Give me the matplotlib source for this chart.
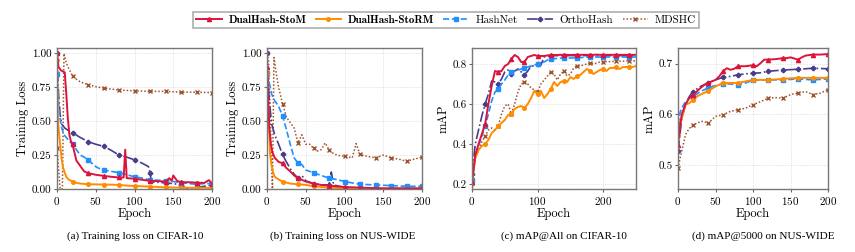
import numpy as np
import matplotlib
matplotlib.use("Agg")
import matplotlib.pyplot as plt

plt.rcParams['font.family'] = 'cmr10'
plt.rcParams['axes.formatter.use_mathtext'] = True
plt.rcParams['mathtext.fontset'] = 'cm'

methods = ["DualHash-StoM", "DualHash-StoRM", "HashNet", "OrthoHash", "MDSHC"]

# ---- (a) training loss, CIFAR-10
a_stom_x = [0, 2, 5, 10, 12, 14, 16, 18, 20, 25, 30, 35, 40, 50, 60, 70, 80, 86, 88, 90,
            95, 100, 110, 120, 130, 140, 145, 148, 150, 155, 160, 170, 180, 190, 196, 200]
a_stom_y = [1.00, 0.90, 0.875, 0.86, 0.70, 0.52, 0.40, 0.35, 0.33, 0.21, 0.17, 0.13, 0.117, 0.105,
            0.097, 0.09, 0.085, 0.085, 0.29, 0.08, 0.078, 0.075, 0.068, 0.06, 0.058, 0.055, 0.08,
            0.06, 0.10, 0.06, 0.05, 0.05, 0.047, 0.045, 0.065, 0.04]
a_storm_x = [0, 1, 2, 4, 6, 8, 10, 12, 15, 20, 25, 30, 40, 50, 60, 70, 80, 90, 100, 110,
             120, 140, 160, 180, 200]
a_storm_y = [0.95, 0.55, 0.45, 0.33, 0.22, 0.155, 0.12, 0.09, 0.07, 0.055, 0.045, 0.04, 0.035,
             0.034, 0.033, 0.032, 0.03, 0.025, 0.022, 0.02, 0.018, 0.012, 0.01, 0.009, 0.008]
a_hash_x = [0, 2, 4, 6, 9, 12, 16, 20, 25, 30, 35, 40, 45, 50, 55, 60, 70, 80, 90, 100,
            110, 120, 130, 140, 150, 160, 170, 180, 190, 200]
a_hash_y = [0.85, 0.63, 0.52, 0.45, 0.40, 0.38, 0.35, 0.335, 0.29, 0.25, 0.235, 0.215, 0.19,
            0.165, 0.15, 0.14, 0.13, 0.12, 0.105, 0.09, 0.08, 0.067, 0.065, 0.06, 0.055, 0.047,
            0.04, 0.035, 0.04, 0.04]
a_ortho_x = [0, 2, 4, 6, 10, 15, 20, 30, 40, 50, 60, 70, 80, 90, 100, 110, 118, 120, 122, 130,
             140, 150, 160, 165, 170, 175, 180, 190, 200]
a_ortho_y = [1.00, 0.70, 0.55, 0.48, 0.45, 0.43, 0.415, 0.38, 0.35, 0.33, 0.315, 0.285, 0.25,
             0.235, 0.215, 0.19, 0.165, 0.12, 0.05, 0.05, 0.045, 0.04, 0.03, 0.01, 0.005, 0.0,
             0.01, 0.02, 0.03]
a_mdshc_x = [0, 4, 7, 9, 12, 15, 20, 25, 30, 40, 50, 60, 80, 100, 120, 140, 160, 180, 200]
a_mdshc_y = [0.30, 0.0, 0.0, 1.00, 0.93, 0.89, 0.835, 0.81, 0.79, 0.77, 0.755, 0.744, 0.73,
             0.724, 0.72, 0.72, 0.714, 0.714, 0.711]

# ---- (b) training loss, NUS-WIDE
b_stom_x = [0, 1, 2, 3, 5, 7, 10, 15, 20, 25, 30, 35, 40, 50, 60, 70, 80, 100, 120, 150, 200]
b_stom_y = [0.90, 0.75, 0.60, 0.45, 0.33, 0.27, 0.23, 0.20, 0.19, 0.155, 0.13, 0.10, 0.08,
            0.055, 0.04, 0.03, 0.025, 0.015, 0.01, 0.005, 0.005]
b_storm_x = [0, 1, 2, 4, 6, 8, 10, 15, 20, 30, 40, 50, 60, 80, 100, 150, 200]
b_storm_y = [0.85, 0.70, 0.55, 0.255, 0.17, 0.12, 0.09, 0.07, 0.055, 0.04, 0.035, 0.03, 0.02,
             0.01, 0.005, 0.003, 0.003]
b_hash_x = [0, 3, 6, 10, 15, 20, 25, 30, 35, 40, 45, 50, 60, 70, 80, 90, 100, 120, 140, 160,
            180, 200]
b_hash_y = [0.85, 0.78, 0.70, 0.65, 0.61, 0.54, 0.44, 0.33, 0.23, 0.19, 0.18, 0.14, 0.12, 0.10,
            0.08, 0.07, 0.055, 0.035, 0.03, 0.025, 0.02, 0.02]
b_ortho_x = [0, 1, 3, 6, 10, 15, 20, 25, 30, 35, 40, 45, 50, 55, 60, 70, 80, 83, 86, 100,
             120, 150, 200]
b_ortho_y = [1.00, 0.85, 0.65, 0.48, 0.40, 0.33, 0.255, 0.20, 0.15, 0.11, 0.08, 0.10, 0.06,
             0.05, 0.04, 0.03, 0.03, 0.125, 0.03, 0.01, 0.005, 0.002, 0.002]
b_mdshc_x = [0, 2, 7, 9, 12, 15, 20, 25, 30, 35, 40, 45, 50, 55, 60, 65, 70, 75, 80, 85,
             90, 100, 110, 115, 120, 130, 140, 150, 160, 170, 180, 190, 200]
b_mdshc_y = [1.00, 0.95, 0.0, 0.97, 0.85, 0.75, 0.63, 0.53, 0.49, 0.45, 0.34, 0.40, 0.33, 0.33,
             0.30, 0.28, 0.29, 0.34, 0.29, 0.265, 0.25, 0.24, 0.23, 0.335, 0.255, 0.24, 0.23,
             0.25, 0.23, 0.22, 0.205, 0.22, 0.235]

# ---- (c) mAP@All, CIFAR-10 (every 5 epochs, 0..250)
c_x = np.arange(0, 251, 5)
c_stom_y = [0.21, 0.345, 0.40, 0.45, 0.50, 0.60, 0.69, 0.765, 0.76, 0.765,
            0.79, 0.80, 0.825, 0.845, 0.835, 0.81, 0.81, 0.835, 0.84, 0.845,
            0.84, 0.84, 0.84, 0.843, 0.845, 0.845, 0.845, 0.846, 0.846, 0.846,
            0.845, 0.846, 0.846, 0.846, 0.846, 0.846, 0.846, 0.846, 0.847, 0.846,
            0.846, 0.846, 0.846, 0.846, 0.846, 0.846, 0.846, 0.846, 0.846, 0.846, 0.846]
c_storm_y = [0.20, 0.33, 0.37, 0.39, 0.40, 0.42, 0.455, 0.47, 0.49, 0.505,
             0.52, 0.545, 0.55, 0.575, 0.585, 0.59, 0.58, 0.60, 0.63, 0.665,
             0.65, 0.665, 0.63, 0.65, 0.675, 0.71, 0.69, 0.71, 0.715, 0.71,
             0.735, 0.725, 0.74, 0.745, 0.76, 0.775, 0.765, 0.75, 0.76, 0.77,
             0.775, 0.765, 0.78, 0.78, 0.785, 0.775, 0.785, 0.785, 0.787, 0.785, 0.79]
c_hash_y = [0.22, 0.33, 0.39, 0.44, 0.49, 0.55, 0.615, 0.66, 0.675, 0.70,
            0.72, 0.745, 0.76, 0.765, 0.77, 0.775, 0.78, 0.785, 0.79, 0.795,
            0.80, 0.805, 0.81, 0.82, 0.825, 0.826, 0.828, 0.829, 0.83, 0.83,
            0.83, 0.83, 0.83, 0.832, 0.833, 0.834, 0.835, 0.835, 0.835, 0.835,
            0.835, 0.835, 0.835, 0.835, 0.835, 0.835, 0.835, 0.835, 0.835, 0.835, 0.835]
c_ortho_y = [0.25, 0.40, 0.47, 0.54, 0.60, 0.65, 0.715, 0.71, 0.70, 0.725,
             0.76, 0.77, 0.75, 0.765, 0.775, 0.76, 0.745, 0.765, 0.79, 0.79,
             0.80, 0.795, 0.835, 0.84, 0.84, 0.842, 0.842, 0.842, 0.842, 0.842,
             0.842, 0.842, 0.842, 0.842, 0.842, 0.842, 0.842, 0.842, 0.842, 0.842,
             0.842, 0.842, 0.842, 0.842, 0.842, 0.842, 0.842, 0.842, 0.842, 0.842, 0.842]
c_mdshc_y = [0.22, 0.33, 0.37, 0.41, 0.44, 0.47, 0.48, 0.47, 0.49, 0.55,
             0.59, 0.60, 0.55, 0.60, 0.66, 0.70, 0.71, 0.70, 0.68, 0.67,
             0.66, 0.70, 0.72, 0.74, 0.76, 0.75, 0.72, 0.75, 0.765, 0.74,
             0.75, 0.78, 0.79, 0.79, 0.795, 0.80, 0.805, 0.80, 0.805, 0.81,
             0.81, 0.812, 0.812, 0.813, 0.813, 0.814, 0.814, 0.815, 0.815, 0.815, 0.816]

# ---- (d) mAP@5000, NUS-WIDE
d_stom_x = [0, 3, 5, 10, 15, 20, 25, 30, 35, 40, 45, 50, 55, 60, 65, 70, 75, 80, 90, 100,
            105, 110, 115, 120, 130, 140, 145, 150, 160, 165, 170, 180, 190, 200]
d_stom_y = [0.54, 0.58, 0.60, 0.62, 0.632, 0.639, 0.645, 0.652, 0.658, 0.662, 0.665, 0.668,
            0.675, 0.685, 0.691, 0.688, 0.69, 0.695, 0.695, 0.697, 0.695, 0.701, 0.708, 0.708,
            0.709, 0.711, 0.711, 0.7125, 0.708, 0.7125, 0.716, 0.718, 0.718, 0.719]
d_storm_x = [0, 3, 5, 10, 15, 20, 25, 30, 40, 50, 60, 70, 80, 90, 100, 120, 140, 160, 180, 200]
d_storm_y = [0.56, 0.58, 0.592, 0.619, 0.622, 0.629, 0.635, 0.639, 0.646, 0.655, 0.662, 0.662,
             0.662, 0.665, 0.668, 0.668, 0.67, 0.672, 0.672, 0.672]
d_hash_x = [0, 3, 5, 10, 15, 20, 30, 40, 50, 60, 70, 80, 90, 100, 120, 140, 160, 180, 200]
d_hash_y = [0.58, 0.605, 0.612, 0.625, 0.632, 0.635, 0.645, 0.652, 0.657, 0.66, 0.66, 0.658,
            0.662, 0.667, 0.668, 0.668, 0.67, 0.668, 0.67]
d_ortho_x = [0, 5, 10, 15, 20, 30, 40, 50, 60, 70, 80, 90, 100, 110, 120, 140, 160, 180, 200]
d_ortho_y = [0.527, 0.592, 0.619, 0.635, 0.645, 0.655, 0.662, 0.668, 0.673, 0.675, 0.678,
             0.68, 0.681, 0.682, 0.685, 0.6875, 0.689, 0.691, 0.69]
d_mdshc_x = [0, 3, 5, 10, 15, 20, 25, 30, 35, 40, 45, 50, 60, 70, 80, 90, 100, 110, 120, 130,
             140, 150, 160, 170, 180, 190, 200]
d_mdshc_y = [0.493, 0.515, 0.527, 0.56, 0.572, 0.579, 0.582, 0.586, 0.586, 0.582, 0.589, 0.596,
             0.599, 0.606, 0.609, 0.612, 0.619, 0.625, 0.632, 0.633, 0.632, 0.639, 0.642, 0.645,
             0.639, 0.642, 0.649]

captions = ["(a) Training loss on CIFAR-10", "(b) Training loss on NUS-WIDE",
            "(c) mAP@All on CIFAR-10", "(d) mAP@5000 on NUS-WIDE"]

styles = {
    "DualHash-StoM":  dict(color="#DC143C", ls="-",  marker="^", lw=1.4, ms=3),
    "DualHash-StoRM": dict(color="#FF8C00", ls="-",  marker="o", lw=1.4, ms=2.6),
    "HashNet":        dict(color="#1E90FF", ls="--", marker="s", lw=1.2, ms=2.6),
    "OrthoHash":      dict(color="#483D8B", ls="-.", marker="P", lw=1.2, ms=3),
    "MDSHC":          dict(color="#A0522D", ls=(0, (1, 1.3)), marker="x", lw=1.1, ms=2.6),
}

panels = [
    dict(series=[(a_stom_x, a_stom_y), (a_storm_x, a_storm_y), (a_hash_x, a_hash_y),
                 (a_ortho_x, a_ortho_y), (a_mdshc_x, a_mdshc_y)],
         xlim=(0, 200), ylim=(0, 1.04), xt=[0, 50, 100, 150, 200],
         yt=[0, 0.25, 0.5, 0.75, 1.0], yfmt="%.2f", ylabel="Training Loss",
         rect=[57, 48, 155, 141], cap_x=135),
    dict(series=[(b_stom_x, b_stom_y), (b_storm_x, b_storm_y), (b_hash_x, b_hash_y),
                 (b_ortho_x, b_ortho_y), (b_mdshc_x, b_mdshc_y)],
         xlim=(0, 200), ylim=(0, 1.04), xt=[0, 50, 100, 150, 200],
         yt=[0, 0.25, 0.5, 0.75, 1.0], yfmt="%.2f", ylabel="Training Loss",
         rect=[267, 48, 155, 141], cap_x=343),
    dict(series=[(c_x, c_stom_y), (c_x, c_storm_y), (c_x, c_hash_y),
                 (c_x, c_ortho_y), (c_x, c_mdshc_y)],
         xlim=(0, 250), ylim=(0.175, 0.88), xt=[0, 100, 200],
         yt=[0.2, 0.4, 0.6, 0.8], yfmt="%.1f", ylabel="mAP",
         rect=[472, 48, 164, 141], cap_x=564),
    dict(series=[(d_stom_x, d_stom_y), (d_storm_x, d_storm_y), (d_hash_x, d_hash_y),
                 (d_ortho_x, d_ortho_y), (d_mdshc_x, d_mdshc_y)],
         xlim=(0, 200), ylim=(0.4525, 0.731), xt=[0, 50, 100, 150, 200],
         yt=[0.5, 0.6, 0.7], yfmt="%.1f", ylabel="mAP",
         rect=[678, 48, 150, 141], cap_x=763),
]

W, H = 855, 252
fig = plt.figure(figsize=(W / 100, H / 100), dpi=100)

order = [4, 3, 2, 1, 0]  # draw baselines first, ours on top
handles = {}
for p, cap in zip(panels, captions):
    l, t, w, h = p["rect"]
    ax = fig.add_axes([l / W, 1 - (t + h) / H, w / W, h / H])
    for i in order:
        name = methods[i]
        x, y = p["series"][i]
        x = np.asarray(x)
        marks = np.isin(x, np.arange(0, 260, 20))
        ln, = ax.plot(x, y, markevery=list(marks), label=name, **styles[name])
        handles[name] = ln
    ax.set_xlim(*p["xlim"])
    ax.set_ylim(*p["ylim"])
    ax.set_xticks(p["xt"])
    ax.set_yticks(p["yt"])
    ax.set_yticklabels([p["yfmt"] % v for v in p["yt"]])
    ax.set_xlabel("Epoch", fontsize=9, labelpad=1)
    ax.set_ylabel(p["ylabel"], fontsize=9, labelpad=2)
    ax.tick_params(labelsize=8, length=2, pad=2, color="#666666")
    ax.grid(True, ls=":", lw=0.5, color="#cccccc")
    for s in ax.spines.values():
        s.set_color("#777777")
        s.set_linewidth(1.0)
    fig.text(p["cap_x"] / W, (H - 236) / H, cap, family="Liberation Serif",
             fontsize=8, ha="center", va="center")

leg = fig.legend([handles[m] for m in methods], methods, loc="upper center",
                 bbox_to_anchor=(446 / W, 1 - 6 / H), ncol=5, fontsize=8,
                 frameon=True, fancybox=False, edgecolor="#999999",
                 handlelength=2.3, columnspacing=0.85, handletextpad=0.6,
                 borderpad=0.3)
leg.get_frame().set_linewidth(1.2)
for txt in leg.get_texts()[:2]:
    txt.set_fontfamily("cmb10")

fig.savefig("out.png", dpi=100)
